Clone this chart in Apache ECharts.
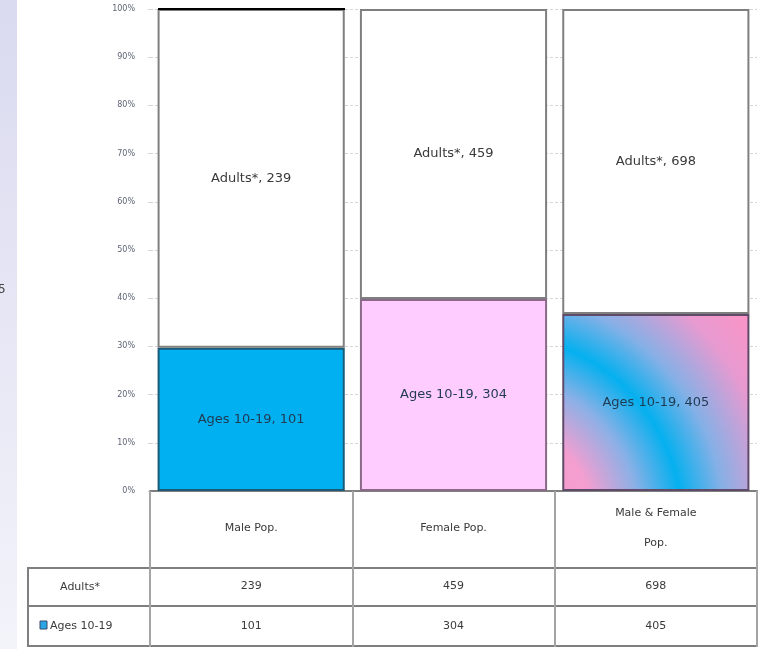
<!DOCTYPE html>
<html>
<head>
<meta charset="utf-8">
<script src="https://cdn.jsdelivr.net/npm/echarts@6/dist/echarts.min.js"></script>
<style>
  html, body { margin: 0; padding: 0; background: #fff; }
  #main { width: 764px; height: 649px; }
</style>
</head>
<body>
<div id="main"></div>
<script>
var categories = ['Male Pop.', 'Female Pop.', 'Male & Female\nPop.'];
var seriesNames = ['Ages 10-19', 'Adults*'];
var ages = [101, 304, 405];
var adults = [239, 459, 698];
var yTicks = [0, 100, 10];   // min, max, interval (percent)

var myChart = echarts.init(document.getElementById('main'));

// share of each group in its column, 100% stacked
function pct(arr, i) { return arr[i] / (ages[i] + adults[i]) * 100; }

var ageStyles = [
    { color: '#00b0f0', borderColor: '#1d5a78' },
    { color: '#ffccff', borderColor: '#8a6a88' },
    {
        // pink corners, curved cyan band through the middle
        color: {
            type: 'radial', x: -0.36, y: 1.17, r: 1.85,
            colorStops: [
                { offset: 0, color: '#fa96c8' },
                { offset: 0.3, color: '#f49ed0' },
                { offset: 0.44, color: '#8cb0e6' },
                { offset: 0.57, color: '#05b0ef' },
                { offset: 0.7, color: '#86b0e6' },
                { offset: 0.86, color: '#e79ad0' },
                { offset: 1, color: '#fc94c6' }
            ]
        },
        borderColor: '#604a6a'
    }
];

var ageData = ages.map(function (v, i) {
    return {
        value: pct(ages, i),
        raw: v,
        itemStyle: { color: ageStyles[i].color, borderColor: ageStyles[i].borderColor }
    };
});
var adultData = adults.map(function (v, i) {
    return { value: pct(adults, i), raw: v };
});

var txt = '#3a3a3a';
var font = 'DejaVu Sans';

var option = {
    animation: false,
    backgroundColor: '#fff',
    textStyle: { fontFamily: font },
    grid: { left: 150, right: 7, top: 9, bottom: 158 },
    yAxis: {
        type: 'value',
        min: yTicks[0], max: yTicks[1], interval: yTicks[2],
        axisLine: { show: false },
        axisTick: { show: true, length: 2, lineStyle: { color: '#d0d0d0' } },
        axisLabel: { formatter: '{value}%', fontSize: 8, color: '#5e6474', margin: 15 },
        splitLine: { lineStyle: { color: '#d6d6d6', type: [3, 2] } }
    },
    xAxis: [
        {
            type: 'category', data: categories,
            axisLine: { lineStyle: { color: '#7f7f7f', width: 2 } },
            axisTick: { show: true, length: 156, lineStyle: { color: '#a5a5a5', width: 2 } },
            axisLabel: { fontSize: 11, color: txt, margin: 37, verticalAlign: 'middle', lineHeight: 30 }
        },
        {
            type: 'category', data: adults.map(String), position: 'bottom', offset: 95, gridIndex: 0,
            axisLine: { show: false }, axisTick: { show: false },
            axisLabel: { fontSize: 11, color: txt, margin: 0, verticalAlign: 'middle' }
        },
        {
            type: 'category', data: ages.map(String), position: 'bottom', offset: 135, gridIndex: 0,
            axisLine: { show: false }, axisTick: { show: false },
            axisLabel: { fontSize: 11, color: txt, margin: 0, verticalAlign: 'middle' }
        }
    ],
    series: [
        {
            name: seriesNames[0],
            type: 'bar',
            stack: 'all',
            barCategoryGap: '7.5%',
            data: ageData,
            itemStyle: { borderWidth: 2 },
            label: {
                show: true, position: 'inside',
                fontSize: 13, color: '#1f3a52',
                formatter: function (p) { return p.seriesName + ', ' + p.data.raw; }
            }
        },
        {
            name: seriesNames[1],
            type: 'bar',
            stack: 'all',
            barCategoryGap: '7.5%',
            data: adultData,
            itemStyle: { color: '#ffffff', borderColor: '#7f7f7f', borderWidth: 2 },
            label: {
                show: true, position: 'inside',
                fontSize: 13, color: txt,
                formatter: function (p) { return p.seriesName + ', ' + p.data.raw; }
            }
        }
    ],
    graphic: [
        // lavender strip on the left edge
        {
            type: 'rect', left: 0, top: 0, z: -1,
            shape: { width: 17, height: 649 },
            style: {
                fill: {
                    type: 'linear', x: 0, y: 0, x2: 0, y2: 1,
                    colorStops: [{ offset: 0, color: '#dadaf0' }, { offset: 1, color: '#f3f3fa' }]
                }
            }
        },
        { type: 'text', left: -2, top: 284, style: { text: '5', fontSize: 12, fill: '#444', fontFamily: font } },
        // dark top edge of the first column
        { type: 'line', shape: { x1: 158, y1: 9, x2: 345, y2: 9 }, style: { stroke: '#000', lineWidth: 2 }, z: 10 },
        // data table rows
        { type: 'line', shape: { x1: 27, y1: 568, x2: 757, y2: 568 }, style: { stroke: '#7f7f7f', lineWidth: 2 } },
        { type: 'line', shape: { x1: 27, y1: 606, x2: 757, y2: 606 }, style: { stroke: '#7f7f7f', lineWidth: 2 } },
        { type: 'line', shape: { x1: 27, y1: 646, x2: 757, y2: 646 }, style: { stroke: '#7f7f7f', lineWidth: 2 } },
        { type: 'line', shape: { x1: 28, y1: 568, x2: 28, y2: 647 }, style: { stroke: '#7f7f7f', lineWidth: 2 } },
        {
            type: 'text', x: 80, y: 587,
            style: { text: seriesNames[1], fontSize: 11, fill: txt, align: 'center', verticalAlign: 'middle', fontFamily: font }
        },
        {
            type: 'rect', shape: { x: 40, y: 621, width: 7, height: 8 },
            style: { fill: '#2aa6e6', stroke: '#3a4a6a', lineWidth: 1 }
        },
        {
            type: 'text', x: 50, y: 626,
            style: { text: seriesNames[0], fontSize: 11, fill: txt, align: 'left', verticalAlign: 'middle', fontFamily: font }
        }
    ]
};

myChart.setOption(option);
</script>
</body>
</html>
